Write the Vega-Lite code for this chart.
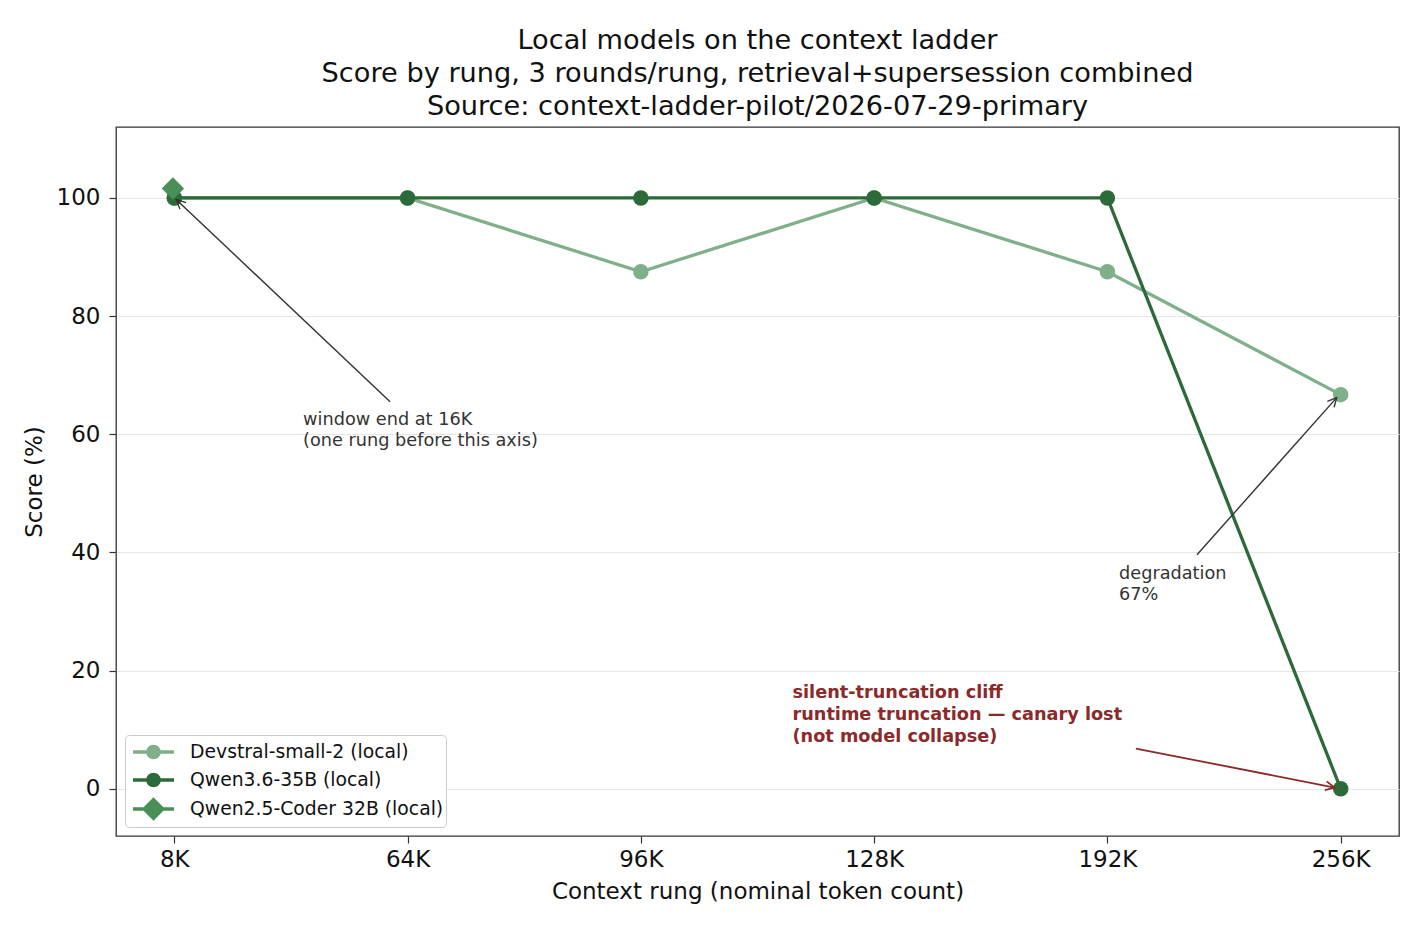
{
  "$schema": "https://vega.github.io/schema/vega-lite/v6.json",
  "width": 1283,
  "height": 709,
  "autosize": {"type": "none"},
  "padding": {"left": 116, "top": 127, "right": 26, "bottom": 94},
  "background": "white",
  "title": {
    "text": ["Local models on the context ladder", "Score by rung, 3 rounds/rung, retrieval+supersession combined", "Source: context-ladder-pilot/2026-07-29-primary"],
    "fontSize": 27.2, "fontWeight": "normal", "lineHeight": 33, "color": "#111111",
    "offset": 6, "anchor": "middle", "frame": "group"
  },
  "datasets": {
    "scores": [
      {"model": "Devstral-small-2 (local)", "rung": "8K", "idx": 0, "score": 100},
      {"model": "Devstral-small-2 (local)", "rung": "64K", "idx": 1, "score": 100},
      {"model": "Devstral-small-2 (local)", "rung": "96K", "idx": 2, "score": 87.5},
      {"model": "Devstral-small-2 (local)", "rung": "128K", "idx": 3, "score": 100},
      {"model": "Devstral-small-2 (local)", "rung": "192K", "idx": 4, "score": 87.5},
      {"model": "Devstral-small-2 (local)", "rung": "256K", "idx": 5, "score": 66.7},
      {"model": "Qwen3.6-35B (local)", "rung": "8K", "idx": 0, "score": 100},
      {"model": "Qwen3.6-35B (local)", "rung": "64K", "idx": 1, "score": 100},
      {"model": "Qwen3.6-35B (local)", "rung": "96K", "idx": 2, "score": 100},
      {"model": "Qwen3.6-35B (local)", "rung": "128K", "idx": 3, "score": 100},
      {"model": "Qwen3.6-35B (local)", "rung": "192K", "idx": 4, "score": 100},
      {"model": "Qwen3.6-35B (local)", "rung": "256K", "idx": 5, "score": 0},
      {"model": "Qwen2.5-Coder 32B (local)", "rung": "8K", "idx": -0.006, "score": 101.6}
    ],
    "notes": [
      {"note": "window", "idx": 0.552, "score": 64.0, "text": "window end at 16K\n(one rung before this axis)"},
      {"note": "degradation", "idx": 4.05, "score": 37.9, "text": "degradation\n67%"},
      {"note": "cliff", "idx": 2.65, "score": 17.7, "text": "silent-truncation cliff\nruntime truncation — canary lost\n(not model collapse)"}
    ],
    "arrows": [
      {"note": "window", "idx": 0.925, "score": 65.5, "idx2": 0.009, "score2": 99.7},
      {"note": "degradation", "idx": 4.384, "score": 39.6, "idx2": 4.983, "score2": 66.2},
      {"note": "cliff", "idx": 4.122, "score": 6.8, "idx2": 4.974, "score2": 0.2}
    ]
  },
  "encoding": {
    "x": {
      "field": "idx", "type": "quantitative",
      "scale": {"domain": [-0.25, 5.25], "nice": false, "zero": false},
      "axis": {
        "title": "Context rung (nominal token count)",
        "values": [0, 1, 2, 3, 4, 5],
        "labelExpr": "['8K','64K','96K','128K','192K','256K'][datum.value]",
        "grid": false, "domain": false,
        "tickColor": "#333333", "tickSize": 7, "tickWidth": 1.2,
        "labelFontSize": 23, "labelColor": "#111111", "labelPadding": 5,
        "titleFontSize": 23, "titleFontWeight": "normal", "titleColor": "#111111", "titlePadding": 9
      }
    },
    "y": {
      "field": "score", "type": "quantitative",
      "scale": {"domain": [-8, 112], "nice": false, "zero": false},
      "axis": {
        "title": "Score (%)",
        "values": [0, 20, 40, 60, 80, 100],
        "grid": true, "gridColor": "#e6e6e6", "gridWidth": 1,
        "domain": false,
        "tickColor": "#333333", "tickSize": 7, "tickWidth": 1.2,
        "labelFontSize": 23, "labelColor": "#111111", "labelPadding": 9,
        "titleFontSize": 23, "titleFontWeight": "normal", "titleColor": "#111111", "titlePadding": 10
      }
    }
  },
  "layer": [
    {
      "data": {"name": "scores"},
      "transform": [{"filter": "datum.model === 'Devstral-small-2 (local)'"}],
      "mark": {"type": "line", "strokeWidth": 3.3},
      "encoding": {
        "color": {
          "field": "model", "type": "nominal",
          "scale": {
            "domain": ["Devstral-small-2 (local)", "Qwen3.6-35B (local)", "Qwen2.5-Coder 32B (local)"],
            "range": ["#80b089", "#2d6a39", "#4a8f57"]
          },
          "legend": {
            "title": null, "orient": "bottom-left", "offset": 9, "padding": 2,
            "fillColor": "white", "strokeColor": "#cccccc", "cornerRadius": 4,
            "symbolSize": 676, "symbolOffset": 11.5, "labelOffset": 21.5, "rowPadding": 0,
            "labelFontSize": 18.8, "labelFont": "DejaVu Sans", "labelColor": "#111111", "labelLimit": 0,
            "encode": {
              "symbols": {
                "update": {
                  "shape": {"signal": "datum.value === 'Qwen2.5-Coder 32B (local)' ? 'M-1.58,0H1.58M0,-0.72L0.72,0L0,0.72L-0.72,0Z' : 'M-1.58,0H1.58M-0.44,0A0.44,0.44,0,1,0,0.44,0A0.44,0.44,0,1,0,-0.44,0Z'"},
                  "fill": {"scale": "color", "field": "value"},
                  "stroke": {"scale": "color", "field": "value"},
                  "strokeWidth": {"value": 3.3},
                  "opacity": {"value": 1}
                }
              }
            }
          }
        }
      }
    },
    {
      "data": {"name": "scores"},
      "transform": [{"filter": "datum.model === 'Devstral-small-2 (local)'"}],
      "mark": {"type": "point", "filled": true, "shape": "circle", "size": 240, "opacity": 1},
      "encoding": {"color": {"field": "model", "type": "nominal"}}
    },
    {
      "data": {"name": "scores"},
      "transform": [{"filter": "datum.model === 'Qwen3.6-35B (local)'"}],
      "mark": {"type": "line", "strokeWidth": 3.3},
      "encoding": {"color": {"field": "model", "type": "nominal"}}
    },
    {
      "data": {"name": "scores"},
      "transform": [{"filter": "datum.model === 'Qwen3.6-35B (local)'"}],
      "mark": {"type": "point", "filled": true, "shape": "circle", "size": 240, "opacity": 1},
      "encoding": {"color": {"field": "model", "type": "nominal"}}
    },
    {
      "data": {"name": "scores"},
      "transform": [{"filter": "datum.model === 'Qwen2.5-Coder 32B (local)'"}],
      "mark": {"type": "point", "filled": true, "shape": "diamond", "size": 500, "opacity": 1},
      "encoding": {"color": {"field": "model", "type": "nominal"}}
    },
    {
      "data": {"name": "arrows"},
      "transform": [{"filter": "datum.note !== 'cliff'"}],
      "mark": {"type": "rule", "color": "#333333", "strokeWidth": 1.4},
      "encoding": {"x2": {"field": "idx2"}, "y2": {"field": "score2"}}
    },
    {
      "data": {"name": "arrows"},
      "transform": [{"filter": "datum.note === 'cliff'"}],
      "mark": {"type": "rule", "color": "#8b2a2a", "strokeWidth": 1.8},
      "encoding": {"x2": {"field": "idx2"}, "y2": {"field": "score2"}}
    },
    {
      "data": {"name": "arrows"},
      "transform": [{"filter": "datum.note === 'window'"}],
      "mark": {"type": "point", "shape": "M-0.5,1L0,0L0.5,1", "filled": false, "size": 324, "angle": 313.3, "stroke": "#333333", "strokeWidth": 1.4, "opacity": 1},
      "encoding": {"x": {"field": "idx2", "type": "quantitative"}, "y": {"field": "score2", "type": "quantitative"}}
    },
    {
      "data": {"name": "arrows"},
      "transform": [{"filter": "datum.note === 'degradation'"}],
      "mark": {"type": "point", "shape": "M-0.5,1L0,0L0.5,1", "filled": false, "size": 324, "angle": 41.7, "stroke": "#333333", "strokeWidth": 1.4, "opacity": 1},
      "encoding": {"x": {"field": "idx2", "type": "quantitative"}, "y": {"field": "score2", "type": "quantitative"}}
    },
    {
      "data": {"name": "arrows"},
      "transform": [{"filter": "datum.note === 'cliff'"}],
      "mark": {"type": "point", "shape": "M-0.5,1L0,0L0.5,1", "filled": false, "size": 324, "angle": 101.1, "stroke": "#8b2a2a", "strokeWidth": 1.8, "opacity": 1},
      "encoding": {"x": {"field": "idx2", "type": "quantitative"}, "y": {"field": "score2", "type": "quantitative"}}
    },
    {
      "data": {"name": "notes"},
      "transform": [{"filter": "datum.note !== 'cliff'"}],
      "mark": {"type": "text", "align": "left", "baseline": "top", "fontSize": 17.7, "lineHeight": 21.5, "color": "#333333", "lineBreak": "\n"},
      "encoding": {"text": {"field": "text"}}
    },
    {
      "data": {"name": "notes"},
      "transform": [{"filter": "datum.note === 'cliff'"}],
      "mark": {"type": "text", "align": "left", "baseline": "top", "fontSize": 17.7, "fontWeight": "bold", "lineHeight": 22, "color": "#8b2a2a", "lineBreak": "\n"},
      "encoding": {"text": {"field": "text"}}
    }
  ],
  "config": {
    "font": "DejaVu Sans",
    "view": {"stroke": "#333333", "strokeWidth": 1.3},
    "axis": {"labelFont": "DejaVu Sans", "titleFont": "DejaVu Sans"},
    "title": {"font": "DejaVu Sans"}
  }
}
